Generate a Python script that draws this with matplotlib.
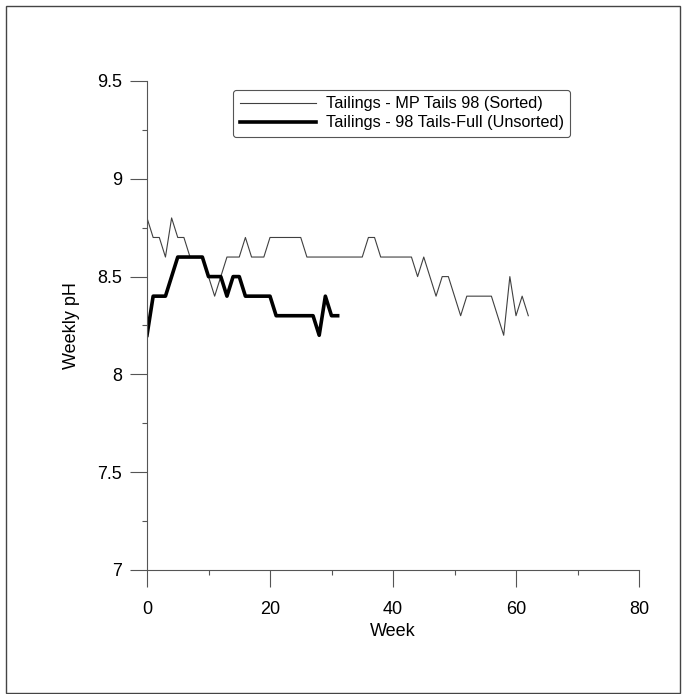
import numpy as np
import matplotlib
matplotlib.use("Agg")
import matplotlib.pyplot as plt
from matplotlib.patches import Rectangle
from matplotlib.ticker import MultipleLocator

plt.rcParams["font.family"] = ["Liberation Sans", "DejaVu Sans"]

# Weekly pH readings
weeks_sorted = np.arange(0, 63)
ph_sorted = [
    8.8, 8.7, 8.7, 8.6, 8.8, 8.7, 8.7, 8.6, 8.6, 8.6,
    8.5, 8.4, 8.5, 8.6, 8.6, 8.6, 8.7, 8.6, 8.6, 8.6,
    8.7, 8.7, 8.7, 8.7, 8.7, 8.7, 8.6, 8.6, 8.6, 8.6,
    8.6, 8.6, 8.6, 8.6, 8.6, 8.6, 8.7, 8.7, 8.6, 8.6,
    8.6, 8.6, 8.6, 8.6, 8.5, 8.6, 8.5, 8.4, 8.5, 8.5,
    8.4, 8.3, 8.4, 8.4, 8.4, 8.4, 8.4, 8.3, 8.2, 8.5,
    8.3, 8.4, 8.3,
]

weeks_unsorted = np.arange(0, 32)
ph_unsorted = [
    8.2, 8.4, 8.4, 8.4, 8.5, 8.6, 8.6, 8.6, 8.6, 8.6,
    8.5, 8.5, 8.5, 8.4, 8.5, 8.5, 8.4, 8.4, 8.4, 8.4,
    8.4, 8.3, 8.3, 8.3, 8.3, 8.3, 8.3, 8.3, 8.2, 8.4,
    8.3, 8.3,
]

label_sorted = "Tailings - MP Tails 98 (Sorted)"
label_unsorted = "Tailings - 98 Tails-Full (Unsorted)"

W, H = 686, 694
fig = plt.figure(figsize=(W / 100, H / 100), dpi=100)

# scanned page frame
fig.patches.append(Rectangle((6 / W, 1 / H), 674 / W, 687 / H, transform=fig.transFigure,
                             fill=False, edgecolor="#444444", linewidth=1.0))

ax = fig.add_axes([147 / W, 1 - 570 / H, 492 / W, 489 / H])

ax.plot(weeks_sorted, ph_sorted, color="#404040", linewidth=0.8, label=label_sorted)
ax.plot(weeks_unsorted, ph_unsorted, color="black", linewidth=2.6, label=label_unsorted)

ax.set_xlim(0, 80)
ax.set_ylim(7, 9.5)
ax.xaxis.set_major_locator(MultipleLocator(20))
ax.xaxis.set_minor_locator(MultipleLocator(10))
ax.yaxis.set_minor_locator(MultipleLocator(0.25))
ax.set_yticks([7, 7.5, 8, 8.5, 9, 9.5])
ax.set_yticklabels(["7", "7.5", "8", "8.5", "9", "9.5"])

for side in ("top", "right"):
    ax.spines[side].set_visible(False)
for side in ("left", "bottom"):
    ax.spines[side].set_color("#555555")
    ax.spines[side].set_linewidth(0.8)

ax.tick_params(which="major", length=12, width=0.8, color="#555555", labelsize=13)
ax.tick_params(which="minor", length=3.5, width=0.8, color="#555555")
ax.tick_params(axis="x", which="major", pad=10)
ax.tick_params(axis="y", which="major", pad=6)

ax.set_xlabel("Week", fontsize=13, labelpad=4)
ax.set_ylabel("Weekly pH", fontsize=13, labelpad=12)

leg = ax.legend(loc="upper left", bbox_to_anchor=(0.175, 0.982), borderaxespad=0,
                fontsize=11.7, handlelength=4.7, handletextpad=0.6, labelspacing=0.25,
                borderpad=0.4, fancybox=True, framealpha=1)
leg.get_frame().set_edgecolor("#555555")
leg.get_frame().set_linewidth(0.8)

fig.savefig("out.png", dpi=100)
